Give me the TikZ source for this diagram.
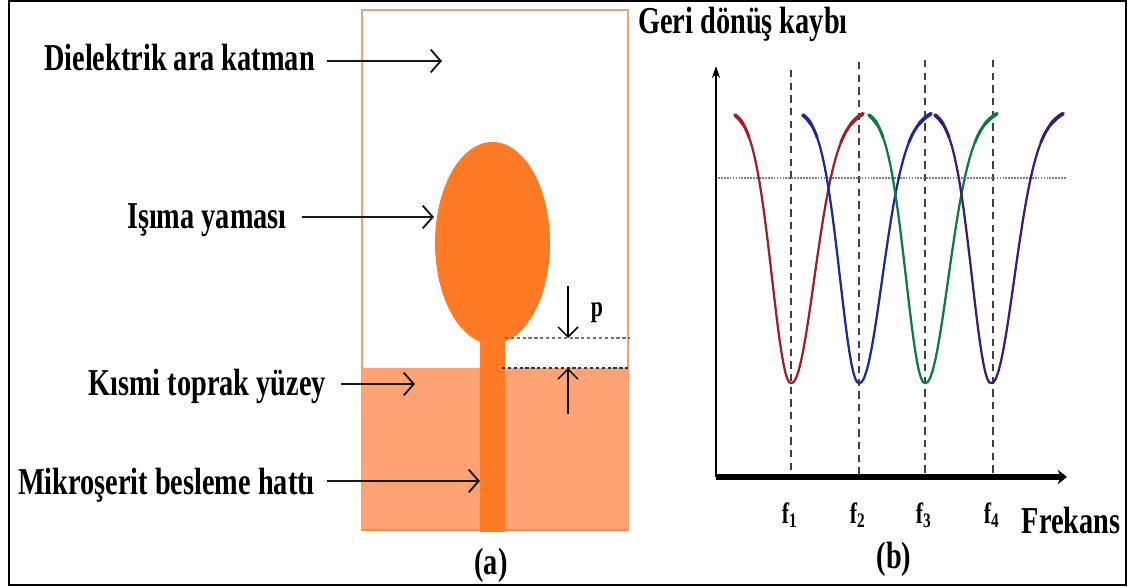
\documentclass[tikz,border=0pt]{standalone}
\usepackage{fontspec}
\setmainfont[FakeStretch=0.745]{Liberation Serif}
\usetikzlibrary{arrows.meta,calc}
\definecolor{patchfill}{HTML}{FF7A24}
\definecolor{groundfill}{HTML}{FFA274}
\definecolor{slabedge}{HTML}{E6A57E}
\definecolor{grounddark}{HTML}{F58C50}
\definecolor{gapgrey}{HTML}{4A4F5A}
\definecolor{refgrey}{HTML}{7A7F8A}
\definecolor{bandred}{HTML}{A01E2A}
\definecolor{bandblue}{HTML}{1C2A96}
\definecolor{bandgreen}{HTML}{0F7A40}
\definecolor{bandpurple}{HTML}{3D1C70}
\tikzset{
  declare function={
    leftdip(\t)=112+271*exp(-\t*\t/697)+5*sin(3.2*abs(\t));
    rightdip(\t)=112+271*exp(-\t*\t/1024)+8*sin(2.5*\t);
  },
  slab/.style={draw=slabedge, line width=1.1pt},
  pointer/.style={-{Straight Barb[length=7.5pt,width=17pt,line width=1.4pt]},
                  draw=black!90, line width=2pt},
  gaparrow/.style={-{Straight Barb[length=7.5pt,width=15pt,line width=1.1pt]},
                   draw=black, line width=1.1pt},
  gapline/.style={draw=gapgrey, line width=1.8pt,
                  dash pattern=on 2.4pt off 2pt},
  callout/.style={font=\bfseries\fontsize{28.5}{30}\selectfont,
                  anchor=base east, inner ysep=0pt, inner xsep=9pt},
  caption/.style={font=\bfseries\fontsize{28.5}{30}\selectfont,
                  anchor=base, inner sep=0pt},
  freqtag/.style={font=\bfseries\fontsize{22}{24}\selectfont,
                  anchor=base, inner sep=0pt},
  yaxis/.style={-{Stealth[length=9pt,width=6pt]}, draw=black, line width=1.8pt},
  xaxis/.style={-{Stealth[length=7pt,width=11pt]}, draw=black, line width=4.2pt},
  freqline/.style={draw=black!75, line width=1pt,
                   dash pattern=on 5.5pt off 4pt},
  levelline/.style={draw=refgrey, line width=2.2pt,
                    dash pattern=on 1.3pt off 0.9pt},
  band/.style={line width=1.7pt, line cap=round, samples=30}
}
% One return-loss dip, its minimum at x=#1, in colour #2.
\newcommand{\dip}[2]{%
  \draw[band,draw=#2] plot[domain=-56:0] ({#1+\x},{leftdip(\x)})
    -- plot[domain=0:72] ({#1+\x},{rightdip(\x)});
  \foreach \wd/\lend/\rend in {2.2/-42/50,2.8/-48/60}{
    \draw[band,draw=#2,line width=\wd pt]
      plot[domain=-56:\lend] ({#1+\x},{leftdip(\x)});
    \draw[band,draw=#2,line width=\wd pt]
      plot[domain=\rend:72] ({#1+\x},{rightdip(\x)});
  }
}
\begin{document}
\begin{tikzpicture}[x=0.75pt,y=-0.75pt]
  \useasboundingbox (0,0) rectangle (1128,586);
  \draw[black,line width=2.1pt] (9,1) rectangle (1126,585);

  % -------------------------------------------------------------------------
  % (a) Antenna: substrate, ground, patch and feed.
  \draw[slab] (362,10) rectangle (628,530);
  \draw[slabedge,line width=2pt] (362,10) -- (628,10);
  \fill[groundfill] (362,368) rectangle (628,530);
  \draw[grounddark,line width=1.3pt] (362,530) -- (628,530);
  \fill[patchfill] (492.5,243) ellipse [x radius=57.5,y radius=101];
  \fill[patchfill] (480,335) rectangle (505,532);

  \coordinate (slabmark) at (442,61);
  \coordinate (patchmark) at (434,217);
  \coordinate (groundmark) at (415,384);
  \coordinate (feedmark) at (480,481);

  \node[callout] (slablabel) at (327,70) {Dielektrik ara katman};
  \node[callout,inner xsep=11.25pt] (patchlabel) at (302,228) {Işıma yaması};
  \node[callout,inner xsep=11.25pt] (groundlabel) at (341,395)
    {Kısmi toprak yüzey};
  \node[callout] (feedlabel) at (327,494) {Mikroşerit besleme hattı};

  \draw[pointer] (slablabel.east |- slabmark) -- (slabmark);
  \draw[pointer] (patchlabel.east |- patchmark) -- (patchmark);
  \draw[pointer] (groundlabel.east |- groundmark) -- (groundmark);
  \draw[pointer] (feedlabel.east |- feedmark) -- (feedmark);

  % The gap p between the patch and the ground edge.
  \coordinate (gaptop) at (568,338);
  \coordinate (gapbottom) at (568,368);
  \draw[gapline,draw=gapgrey!80] (505,338) -- (630,338);
  \draw[gapline,draw=black!80] (502,368) -- (630,368);
  \draw[gaparrow] (568,286) -- (gaptop);
  \draw[gaparrow] (568,414) -- (gapbottom);
  \node[freqtag] (gaplabel) at (597,316) {p};

  \node[caption] (capa) at (491,574) {(a)};

  % -------------------------------------------------------------------------
  % (b) Return loss against frequency.
  \coordinate (origin) at (716,477);
  \foreach \fx/\ftop in {791/70,859/62,925/60,993/60}
    \draw[freqline] (\fx,\ftop) -- (\fx,475);
  \draw[levelline] (718,178) -- (1066,178);

  \dip{791}{bandred}
  \dip{859}{bandblue}
  \dip{925}{bandgreen}
  \dip{991}{bandpurple}

  \draw[yaxis] (origin) -- (716,66);
  \draw[xaxis] (origin) -- (1067,477);

  \node[caption] (ylabel) at (743,33) {Geri dönüş kaybı};
  \node[caption] (xlabel) at (1071,533) {Frekans};
  \foreach \fx/\fname in {791/1,859/2,925/3,993/4}
    \node[freqtag] (f\fname) at (\fx,523) {f$_{\mathbf{\fname}}$};
  \node[caption] (capb) at (894,568) {(b)};
\end{tikzpicture}
\end{document}
